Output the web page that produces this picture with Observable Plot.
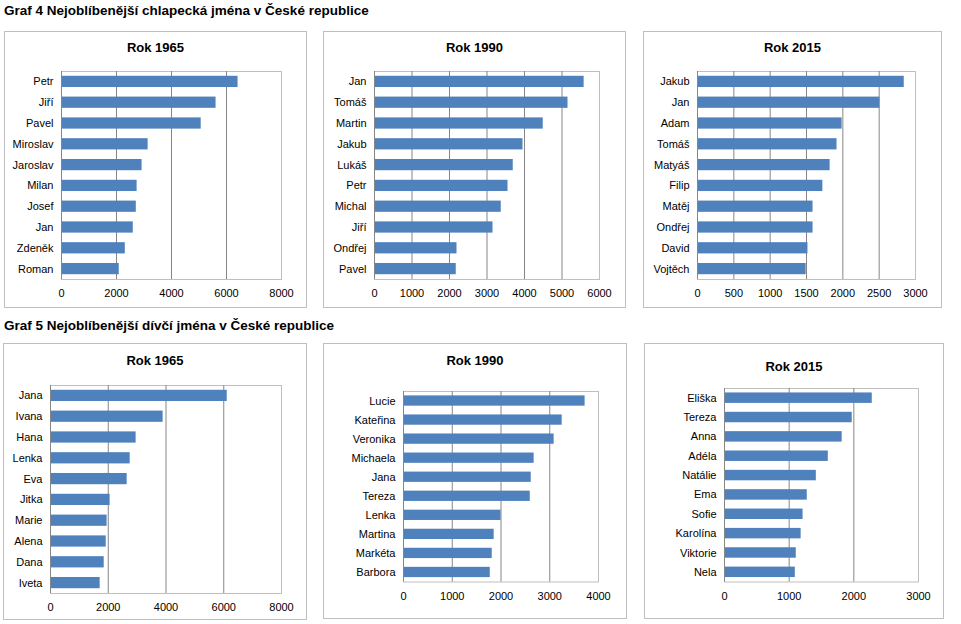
<!DOCTYPE html>
<html>
<head>
<meta charset="utf-8">
<script src="https://cdn.jsdelivr.net/npm/d3@7"></script>
<script src="https://cdn.jsdelivr.net/npm/@observablehq/plot@0.6"></script>
<style>
  body { margin: 0; background: #fff; font-family: "Liberation Sans", Arial, sans-serif; color: #000; }
  #root { position: relative; width: 961px; height: 624px; overflow: hidden; }
  .h { position: absolute; left: 4px; font-weight: bold; font-size: 13.5px; line-height: 16px; white-space: nowrap; }
  .box { position: absolute; border: 1px solid #bfbfbf; box-sizing: border-box; }
  .t { position: absolute; font-weight: bold; font-size: 13px; line-height: 16px; text-align: center; white-space: nowrap; }
  .p { position: absolute; line-height: 0; }
  .p svg { display: block; }
</style>
</head>
<body>
<div id="root"></div>
<script>
// ---- Data ----
const heading1 = "Graf 4 Nejoblíbenější chlapecká jména v České republice";
const heading2 = "Graf 5 Nejoblíbenější dívčí jména v České republice";
const panelTitles = ["Rok 1965", "Rok 1990", "Rok 2015", "Rok 1965", "Rok 1990", "Rok 2015"];

const boys1965Names = ["Petr", "Jiří", "Pavel", "Miroslav", "Jaroslav", "Milan", "Josef", "Jan", "Zdeněk", "Roman"];
const boys1965Values = [6420, 5620, 5080, 3150, 2930, 2750, 2720, 2610, 2320, 2100];

const boys1990Names = ["Jan", "Tomáš", "Martin", "Jakub", "Lukáš", "Petr", "Michal", "Jiří", "Ondřej", "Pavel"];
const boys1990Values = [5590, 5160, 4500, 3960, 3700, 3560, 3380, 3160, 2200, 2180];

const boys2015Names = ["Jakub", "Jan", "Adam", "Tomáš", "Matyáš", "Filip", "Matěj", "Ondřej", "David", "Vojtěch"];
const boys2015Values = [2845, 2510, 1990, 1920, 1825, 1725, 1590, 1590, 1520, 1495];

const girls1965Names = ["Jana", "Ivana", "Hana", "Lenka", "Eva", "Jitka", "Marie", "Alena", "Dana", "Iveta"];
const girls1965Values = [6120, 3900, 2965, 2760, 2655, 2065, 1960, 1930, 1860, 1720];

const girls1990Names = ["Lucie", "Kateřina", "Veronika", "Michaela", "Jana", "Tereza", "Lenka", "Martina", "Markéta", "Barbora"];
const girls1990Values = [3725, 3255, 3090, 2680, 2620, 2600, 2000, 1860, 1820, 1780];

const girls2015Names = ["Eliška", "Tereza", "Anna", "Adéla", "Natálie", "Ema", "Sofie", "Karolína", "Viktorie", "Nela"];
const girls2015Values = [2285, 1975, 1820, 1605, 1420, 1280, 1215, 1185, 1110, 1095];

const ticks1 = [0, 2000, 4000, 6000, 8000];
const ticks2 = [0, 1000, 2000, 3000, 4000, 5000, 6000];
const ticks3 = [0, 500, 1000, 1500, 2000, 2500, 3000];
const ticks4 = [0, 2000, 4000, 6000, 8000];
const ticks5 = [0, 1000, 2000, 3000, 4000];
const ticks6 = [0, 1000, 2000, 3000];

// ---- Layout ----
const panels = [
  {names: boys1965Names, values: boys1965Values, ticks: ticks1, box: [4, 31, 307, 308], plot: [60.5, 71, 280.5, 279], ty: 40},
  {names: boys1990Names, values: boys1990Values, ticks: ticks2, box: [323, 31, 626, 308], plot: [373.5, 71, 598.5, 279], ty: 40},
  {names: boys2015Names, values: boys2015Values, ticks: ticks3, box: [643, 31, 942, 308], plot: [696.5, 71, 914.5, 279], ty: 40},
  {names: girls1965Names, values: girls1965Values, ticks: ticks4, box: [3, 343, 307, 620], plot: [49.5, 384.5, 280.5, 592.5], ty: 353},
  {names: girls1990Names, values: girls1990Values, ticks: ticks5, box: [323, 343, 627, 619], plot: [402.5, 390.5, 597.5, 581], ty: 353},
  {names: girls2015Names, values: girls2015Values, ticks: ticks6, box: [644, 343, 944, 619], plot: [723.5, 387.5, 917.5, 581], ty: 359}
];

const root = document.getElementById("root");

function addDiv(cls, text, style) {
  const d = document.createElement("div");
  d.className = cls;
  if (text != null) d.textContent = text;
  Object.assign(d.style, style);
  root.appendChild(d);
  return d;
}

addDiv("h", heading1, {top: "3px"});
addDiv("h", heading2, {top: "318px"});

panels.forEach((p, k) => {
  const [bx0, by0, bx1, by1] = p.box;
  addDiv("box", null, {left: bx0 + "px", top: by0 + "px", width: (bx1 - bx0) + "px", height: (by1 - by0) + "px"});
  addDiv("t", panelTitles[k], {left: bx0 + "px", top: p.ty + "px", width: (bx1 - bx0) + "px"});

  const [px0, py0, px1, py1] = p.plot;
  const ml = 70, mr = 25, mt = 2, mb = 25;
  const max = p.ticks[p.ticks.length - 1];
  const data = p.names.map((n, i) => ({name: n, value: p.values[i]}));
  const chart = Plot.plot({
    width: (px1 - px0) + ml + mr,
    height: (py1 - py0) + mt + mb,
    marginLeft: ml, marginRight: mr, marginTop: mt, marginBottom: mb,
    style: {fontFamily: "'Liberation Sans', Arial, sans-serif", fontSize: "11px", color: "#000", background: "transparent", overflow: "visible"},
    x: {domain: [0, max], ticks: p.ticks, tickFormat: d3.format("d"), tickSize: 0, tickPadding: 10, label: null},
    y: {domain: p.names, paddingInner: 0.46, paddingOuter: 0.23, round: false, tickSize: 0, tickPadding: 8, label: null},
    marks: [
      Plot.frame({stroke: "#bfbfbf"}),
      Plot.ruleX(p.ticks.filter(v => v > 0 && v < max), {stroke: "#868686"}),
      Plot.barX(data, {x: "value", y: "name", fill: "#4f81bd"}),
      Plot.ruleX([0], {stroke: "#868686"})
    ]
  });
  const wrap = addDiv("p", null, {left: (px0 - ml) + "px", top: (py0 - mt) + "px"});
  wrap.appendChild(chart);
});
</script>
</body>
</html>
